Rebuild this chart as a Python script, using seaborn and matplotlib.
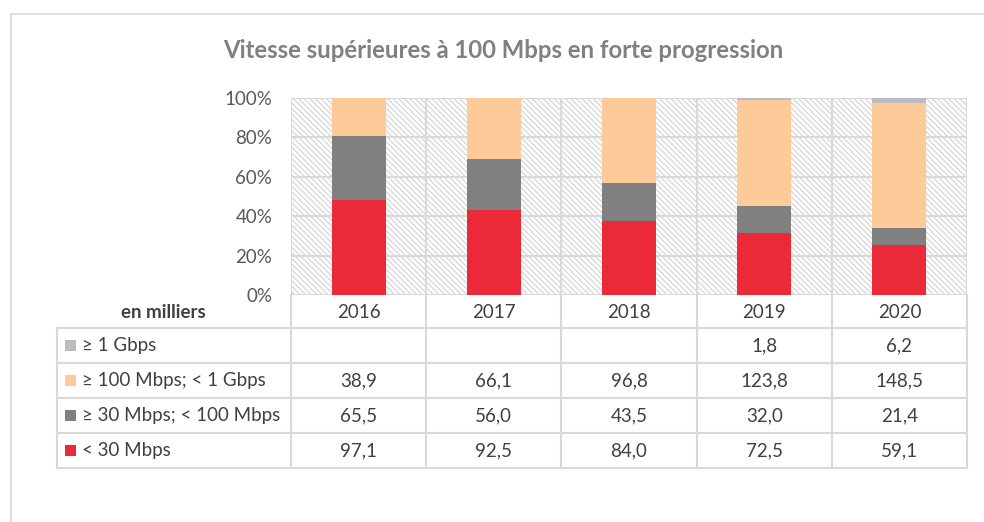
import numpy as np
import pandas as pd
import matplotlib
matplotlib.use("Agg")
import matplotlib.pyplot as plt
from matplotlib.patches import Rectangle
import seaborn as sns

# ---- data (en milliers) ----
years = ["2016", "2017", "2018", "2019", "2020"]
lt30 = [97.1, 92.5, 84.0, 72.5, 59.1]
s30_100 = [65.5, 56.0, 43.5, 32.0, 21.4]
s100_1g = [38.9, 66.1, 96.8, 123.8, 148.5]
ge1g = [np.nan, np.nan, np.nan, 1.8, 6.2]

series_names = ["< 30 Mbps", "≥ 30 Mbps; < 100 Mbps", "≥ 100 Mbps; < 1 Gbps", "≥ 1 Gbps"]
series_vals = [lt30, s30_100, s100_1g, ge1g]
colors = ["#EC2939", "#808080", "#FFCA99", "#BBBCC2"]

title = "Vitesse supérieures à 100 Mbps en forte progression"
row_header = "en milliers"

sns.set_theme(style="white")
plt.rcParams["font.family"] = ["Lato", "DejaVu Sans"]
plt.rcParams["hatch.linewidth"] = 0.9

W, H = 984, 522
fig = plt.figure(figsize=(W / 100, H / 100), dpi=100)
fig.patch.set_facecolor("white")

# layout in pixels
L, R, T, B = 291, 967, 98, 295
TL = 57
row_edges = [328, 363, 398, 433, 468]
grid_c = "#D9D9D9"
txt_c = "#404040"
FS = 13.5

def fx(px):
    return px / W

def fy(py):
    return 1 - py / H

# overlay axes in pixel coords
ov = fig.add_axes([0, 0, 1, 1], zorder=0)
ov.set_xlim(0, W)
ov.set_ylim(H, 0)
ov.axis("off")
ov.patch.set_alpha(0)

# outer chart border
ov.plot([11, 11, W + 5], [H + 5, 14, 14], color=grid_c, lw=1.2, solid_capstyle="butt")

# title
ov.text(503, 50, title, ha="center", va="center", fontsize=17.2,
        fontweight="bold", color="#808080")

# ---- bar axes ----
ax = fig.add_axes([fx(L), fy(B), fx(R) - fx(L), fy(T) - fy(B)], zorder=2)
vals = np.nan_to_num(np.array(series_vals, dtype=float))
pct = vals / vals.sum(axis=0) * 100
cum = np.cumsum(pct, axis=0)

# hatched background
ax.add_patch(Rectangle((0, 0), 1, 1, transform=ax.transAxes, facecolor="white",
                       edgecolor="#D6D6D6", hatch="\\" * 6, linewidth=0, zorder=0))

for k in range(len(series_names) - 1, -1, -1):
    df = pd.DataFrame({"year": years, "cum": cum[k]})
    sns.barplot(data=df, x="year", y="cum", color=colors[k], saturation=1,
                width=0.4, linewidth=0, ax=ax, zorder=3)

ax.set_xlim(-0.5, len(years) - 0.5)
ax.set_ylim(0, 100)
ax.set_xlabel("")
ax.set_ylabel("")
for y in range(0, 101, 20):
    ax.axhline(y, color=grid_c, lw=1.5, zorder=1)
for x in np.arange(-0.5, len(years), 1):
    ax.axvline(x, color=grid_c, lw=1.5, zorder=1)
for s in ax.spines.values():
    s.set_visible(False)
ax.set_xticks([])
ax.set_yticks(range(0, 101, 20))
ax.set_yticklabels([f"{v}%" for v in range(0, 101, 20)], fontsize=FS, color="#595959")
ax.tick_params(axis="y", length=0, pad=13.5)

# ---- data table ----
n = len(years)
cw = (R - L) / n
for i in range(n + 1):
    ov.plot([L + i * cw] * 2, [B, row_edges[-1]], color=grid_c, lw=1.5, zorder=1)
ov.plot([TL, TL], [row_edges[0], row_edges[-1]], color=grid_c, lw=1.5, zorder=1)
for ye in row_edges:
    ov.plot([TL, R], [ye, ye], color=grid_c, lw=1.5, zorder=1)

# header row
ov.text(163, (B + row_edges[0]) / 2 + 1, row_header, ha="center", va="center",
        fontsize=FS, fontweight="bold", color=txt_c)
for i, yr in enumerate(years):
    ov.text(L + (i + 0.5) * cw, (B + row_edges[0]) / 2 + 1, yr, ha="center", va="center",
            fontsize=FS, color=txt_c)

# data rows, top row is last series
for r, k in enumerate(range(len(series_names) - 1, -1, -1)):
    yc = (row_edges[r] + row_edges[r + 1]) / 2
    ov.add_patch(Rectangle((65, yc - 5.5), 11, 11, facecolor=colors[k], edgecolor="none", zorder=2))
    ov.text(82, yc, series_names[k], ha="left", va="center", fontsize=FS, color=txt_c)
    for i in range(n):
        v = series_vals[k][i]
        if not np.isnan(v):
            ov.text(L + (i + 0.5) * cw, yc, f"{v:.1f}".replace(".", ","), ha="center",
                    va="center", fontsize=FS, color=txt_c)

fig.savefig("out.png", dpi=100)
